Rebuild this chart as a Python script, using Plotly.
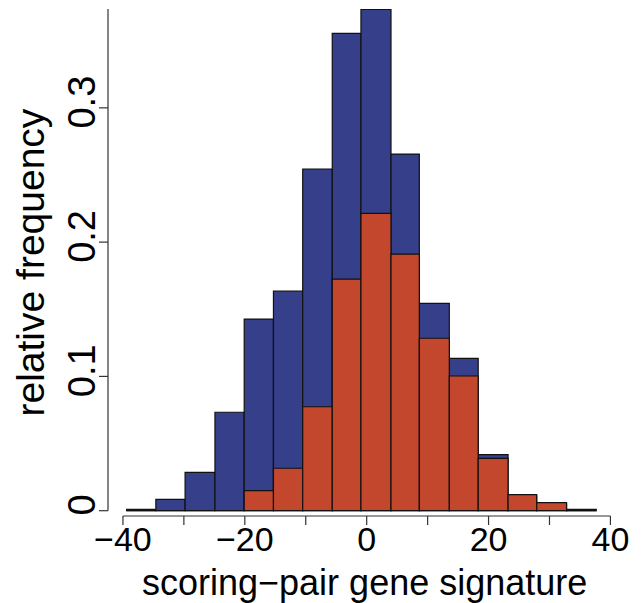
import plotly.graph_objects as go

# bin edges (data units)
bin_edges = [-39.4, -34.6, -29.8, -24.9, -20.1, -15.3, -10.5, -5.65, -0.94,
             3.99, 8.64, 13.56, 18.3, 23.2, 27.9, 32.8, 37.65]
# relative frequencies (blue = all, red = subset)
blue_freq = [0.001, 0.0085, 0.0286, 0.0733, 0.1427, 0.1636, 0.2543, 0.3555,
             0.3733, 0.2656, 0.1544, 0.1135, 0.0417, 0.011, 0.005, 0.0008]
red_freq = [0.0, 0.0, 0.0, 0.0, 0.0149, 0.0316, 0.0774, 0.1725,
            0.2214, 0.1911, 0.1284, 0.1003, 0.039, 0.0119, 0.006, 0.001]
x_ticks = [-40, -30, -20, -10, 0, 10, 20, 30, 40]
x_tick_text = ["\u221240", "", "\u221220", "", "0", "", "20", "", "40"]
y_ticks = [0, 0.1, 0.2, 0.3]
y_tick_text = ["0", "0.1", "0.2", "0.3"]
x_title = "scoring\u2212pair gene signature"
y_title = "relative frequency"

centers = [(a + b) / 2 for a, b in zip(bin_edges[:-1], bin_edges[1:])]
widths = [b - a for a, b in zip(bin_edges[:-1], bin_edges[1:])]

BLUE = "#363F8A"
RED = "#C2472D"
AXC = "#333333"
FONT = "Liberation Sans, Arial, sans-serif"

fig = go.Figure()
fig.add_trace(go.Bar(x=centers, y=blue_freq, width=widths, hoverinfo="skip",
                     marker=dict(color=BLUE, line=dict(color="#111", width=1.2))))
fig.add_trace(go.Bar(x=centers, y=red_freq, width=widths, hoverinfo="skip",
                     marker=dict(color=RED, line=dict(color="#111", width=1.2))))

shapes = [
    dict(type="line", xref="paper", yref="y", x0=0, x1=0, y0=0, y1=0.3736,
         line=dict(color=AXC, width=1.2)),
    dict(type="line", xref="x", yref="paper", x0=x_ticks[0], x1=x_ticks[-1], y0=0, y1=0,
         line=dict(color=AXC, width=1.2)),
]
for t in x_ticks:
    shapes.append(dict(type="line", xref="x", yref="paper", ysizemode="pixel", yanchor=0,
                       x0=t, x1=t, y0=0, y1=-9, line=dict(color=AXC, width=1.2)))
for t in y_ticks:
    shapes.append(dict(type="line", xref="paper", yref="y", xsizemode="pixel", xanchor=0,
                       x0=0, x1=-9, y0=t, y1=t, line=dict(color=AXC, width=1.2)))

fig.update_layout(
    width=641, height=603,
    margin=dict(l=108, r=21, t=9, b=87),
    barmode="overlay", showlegend=False,
    plot_bgcolor="white", paper_bgcolor="white",
    font=dict(family=FONT, color="black"),
    xaxis=dict(range=[-42.45, 41.57], tickvals=x_ticks, ticktext=x_tick_text,
               ticks="", automargin=False,
               showgrid=False, zeroline=False, showline=False,
               tickfont=dict(size=34)),
    yaxis=dict(range=[-0.00395, 0.3736], tickvals=y_ticks, ticktext=y_tick_text,
               ticks="", tickangle=-90, automargin=False, ticklabelstandoff=4,
               showgrid=False, zeroline=False, showline=False,
               tickfont=dict(size=38)),
    shapes=shapes,
    annotations=[
        dict(text=x_title, xref="paper", yref="paper", x=0.5, y=0, yshift=-89,
             xanchor="center", yanchor="bottom", showarrow=False,
             font=dict(size=36)),
        dict(text=y_title, xref="paper", yref="paper", x=0, y=0.5, xshift=-78,
             xanchor="center", yanchor="middle", textangle=-90, showarrow=False,
             font=dict(size=39)),
    ],
)

fig.write_html("out.html", config={"displayModeBar": False},
               post_script="document.body.style.margin='0';document.body.style.overflow='hidden';")
